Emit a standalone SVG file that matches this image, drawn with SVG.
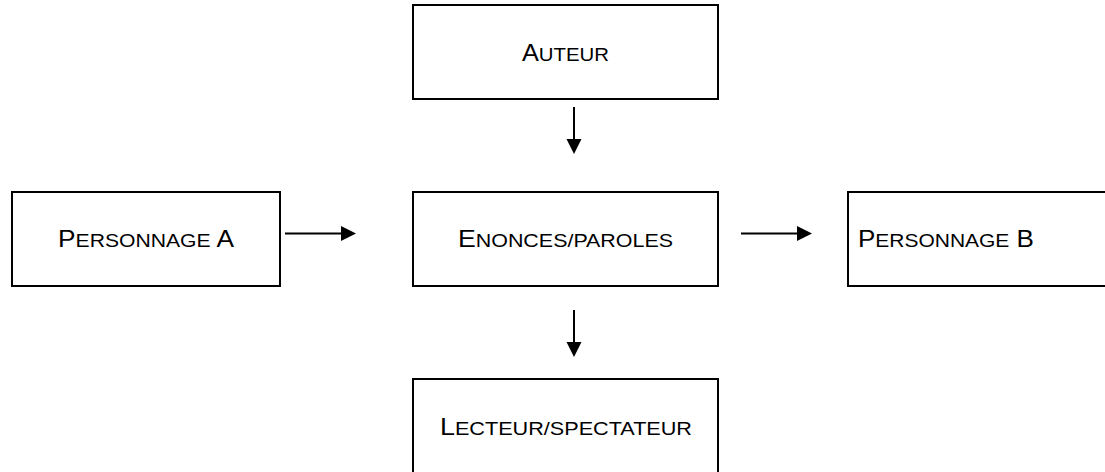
<svg xmlns="http://www.w3.org/2000/svg" width="1105" height="472" viewBox="0 0 1105 472">
  <style>
    .box { fill: #ffffff; stroke: #000000; stroke-width: 2; }
    .lbl { font-family: "Liberation Sans", Arial, sans-serif; font-size: 23px; fill: #000000; }
    .sc { font-size: 18.5px; }
    .conn { stroke: #000000; stroke-width: 2; fill: none; }
  </style>
  <defs>
    <marker id="arrow" markerUnits="userSpaceOnUse" markerWidth="16" markerHeight="16" refX="1" refY="7.5" orient="auto">
      <path d="M0,0 L15,7.5 L0,15 z" fill="#000000"/>
    </marker>
  </defs>
  <rect width="1105" height="472" fill="#ffffff"/>

  <g id="auteur">
    <rect class="box" x="413" y="5" width="305" height="94"/>
    <text class="lbl" x="522" y="61" textLength="87" lengthAdjust="spacingAndGlyphs">A<tspan class="sc">UTEUR</tspan></text>
  </g>

  <g id="personnage-a">
    <rect class="box" x="12" y="192" width="268" height="94"/>
    <text class="lbl" x="58" y="247" textLength="176" lengthAdjust="spacingAndGlyphs">P<tspan class="sc">ERSONNAGE</tspan> A</text>
  </g>

  <g id="enonces">
    <rect class="box" x="413" y="192" width="305" height="94"/>
    <text class="lbl" x="458" y="247" textLength="215" lengthAdjust="spacingAndGlyphs">E<tspan class="sc">NONCES/PAROLES</tspan></text>
  </g>

  <g id="personnage-b">
    <rect class="box" x="848" y="192" width="300" height="94"/>
    <text class="lbl" x="858" y="247" textLength="176" lengthAdjust="spacingAndGlyphs">P<tspan class="sc">ERSONNAGE</tspan> B</text>
  </g>

  <g id="lecteur">
    <rect class="box" x="413" y="379" width="305" height="130"/>
    <text class="lbl" x="440" y="435" textLength="252" lengthAdjust="spacingAndGlyphs">L<tspan class="sc">ECTEUR/SPECTATEUR</tspan></text>
  </g>

  <g id="connectors">
    <line class="conn" x1="574" y1="107" x2="574" y2="140" marker-end="url(#arrow)"/>
    <line class="conn" x1="285" y1="233.5" x2="342" y2="233.5" marker-end="url(#arrow)"/>
    <line class="conn" x1="741" y1="233.5" x2="798" y2="233.5" marker-end="url(#arrow)"/>
    <line class="conn" x1="574" y1="310" x2="574" y2="343" marker-end="url(#arrow)"/>
  </g>
</svg>
